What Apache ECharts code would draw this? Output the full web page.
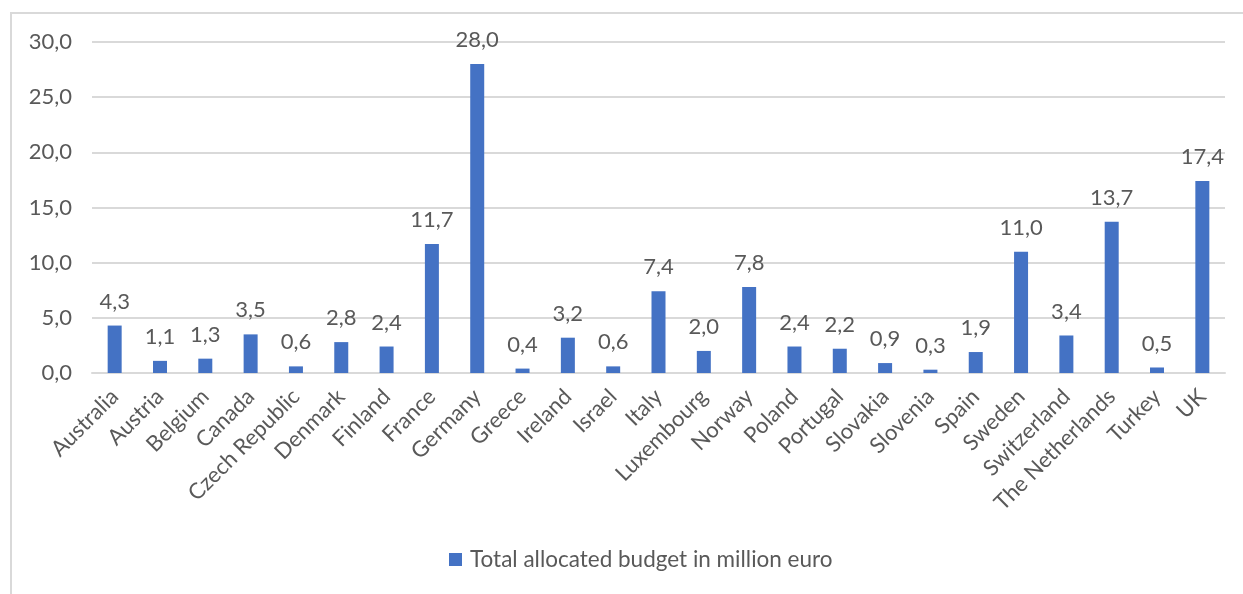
<!DOCTYPE html>
<html>
<head>
    <meta charset="utf-8">
    <title>budget</title>
    <script src="https://cdn.jsdelivr.net/npm/echarts@6/dist/echarts.min.js"></script>
    <style>
        html, body { margin: 0; padding: 0; background: #fff; overflow: hidden; }
        #frame {
            position: absolute; left: 10px; top: 12px;
            width: 1400px; height: 800px;
            border-left: 2px solid #d9d9d9; border-top: 2px solid #d9d9d9;
        }
        #app { position: absolute; left: 0; top: 0; width: 1243px; height: 594px; }
    </style>
</head>
<body>
    <div id="frame"></div>
    <div id="app"></div>
<script type="text/javascript">
    var countries = ['Australia', 'Austria', 'Belgium', 'Canada', 'Czech Republic', 'Denmark', 'Finland',
        'France', 'Germany', 'Greece', 'Ireland', 'Israel', 'Italy', 'Luxembourg', 'Norway', 'Poland',
        'Portugal', 'Slovakia', 'Slovenia', 'Spain', 'Sweden', 'Switzerland', 'The Netherlands', 'Turkey', 'UK'];
    var budget = [4.3, 1.1, 1.3, 3.5, 0.6, 2.8, 2.4, 11.7, 28.0, 0.4, 3.2, 0.6, 7.4, 2.0, 7.8, 2.4,
        2.2, 0.9, 0.3, 1.9, 11.0, 3.4, 13.7, 0.5, 17.4];
    var seriesName = 'Total allocated budget in million euro';

    var font = 'Lato';
    var grey = '#595959';

    // komma als decimaalteken
    function fmt(v) {
        return v.toFixed(1).replace('.', ',');
    }

    var option = {
        animation: false,
        textStyle: { fontFamily: font },
        grid: { left: 92, right: 18, top: 42, bottom: 221, containLabel: false },
        legend: {
            bottom: 18,
            left: 444,
            itemWidth: 13, itemHeight: 13, itemGap: 6,
            icon: 'rect',
            textStyle: { color: grey, fontSize: 22.5, fontFamily: font, padding: [0, 0, 0, 3] },
            data: [seriesName]
        },
        xAxis: {
            type: 'category',
            data: countries,
            axisLine: { lineStyle: { color: '#d9d9d9', width: 2 } },
            axisTick: { show: false },
            axisLabel: { rotate: 45, interval: 0, color: grey, fontSize: 22, fontFamily: font, margin: 20 }
        },
        yAxis: {
            type: 'value',
            min: 0, max: 30, interval: 5,
            axisLine: { show: false },
            axisTick: { show: false },
            splitLine: { lineStyle: { color: '#d9d9d9', width: 2 } },
            axisLabel: { color: grey, fontSize: 22, fontFamily: font, margin: 20, formatter: fmt }
        },
        series: [{
            name: seriesName,
            type: 'bar',
            data: budget,
            barWidth: 14,
            itemStyle: { color: '#4472c4' },
            label: {
                show: true, position: 'top', distance: 13,
                color: grey, fontSize: 22, fontFamily: font,
                formatter: function (p) { return fmt(p.value); }
            }
        }]
    };

    var myChart = echarts.init(document.getElementById('app'));
    myChart.setOption(option);
</script>
</body>
</html>
